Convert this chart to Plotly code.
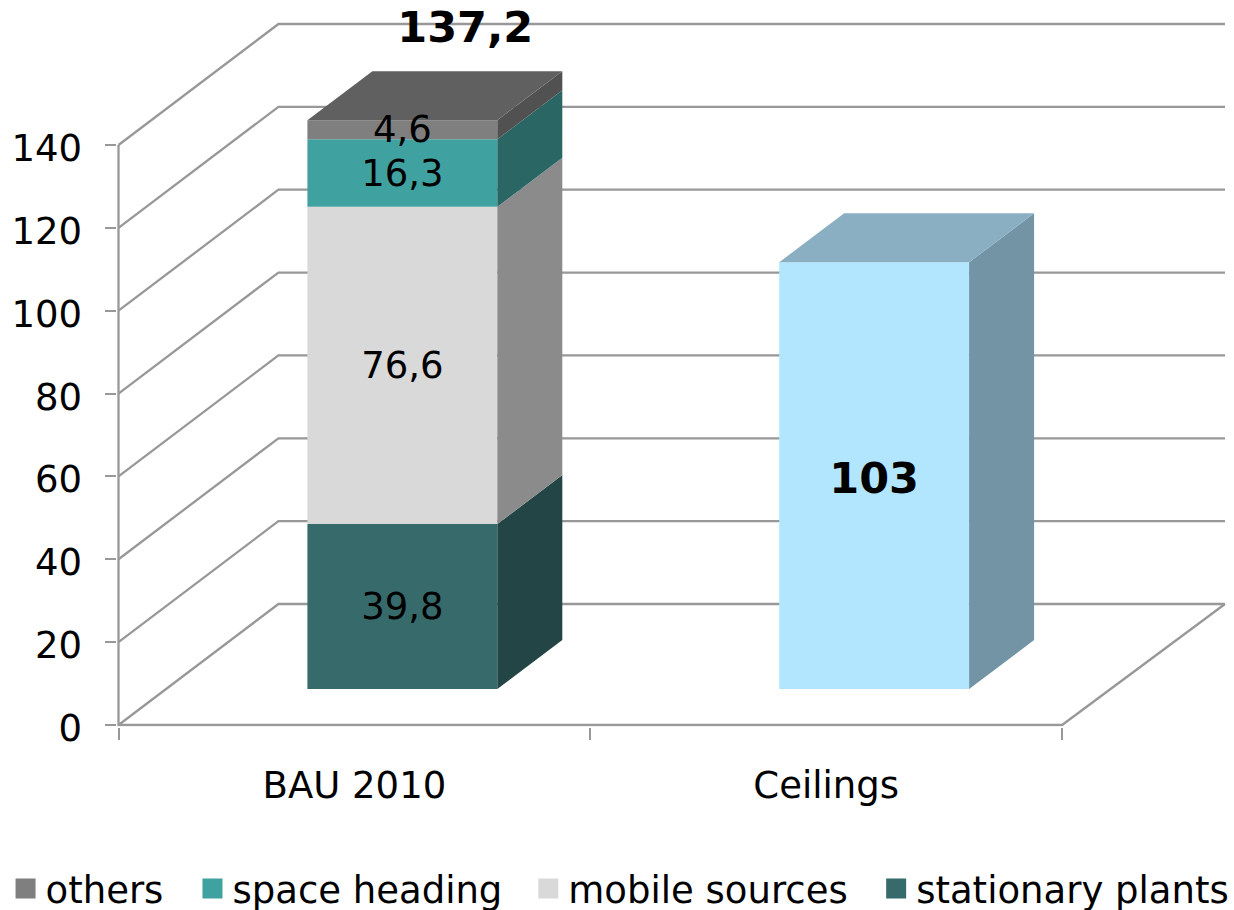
import plotly.graph_objects as go

# ---- data ----
categories = ["BAU 2010", "Ceilings"]
y_ticks = [0, 20, 40, 60, 80, 100, 120, 140]
stack_names = ["stationary plants", "mobile sources", "space heading", "others"]
stack_values = [39.8, 76.6, 16.3, 4.6]
stack_labels = ["39,8", "76,6", "16,3", "4,6"]
total_label = "137,2"
total_value = 137.2
ceiling_value = 103
ceiling_label = "103"
legend_order = ["others", "space heading", "mobile sources", "stationary plants"]

# ---- styling ----
front_colors = {"stationary plants": "#376b6b", "mobile sources": "#d9d9d9",
                "space heading": "#40a2a0", "others": "#7f7f7f"}
side_colors = {"stationary plants": "#234545", "mobile sources": "#8b8b8b",
               "space heading": "#296664", "others": "#515151"}
top_color = "#606060"
ceil_front, ceil_side, ceil_top = "#b2e6ff", "#7294a5", "#8aafc3"
LINE = "#989898"
FONT = "DejaVu Sans"
W, H = 1234, 910
LEFT = 116.5                   # plot-area left edge (1.5 px left of the axis, so its line is not clipped)
AXIS_X, AXIS_Y = 118, 725      # pixel position of the origin
PLOT_BOTTOM = 735
LABEL_SHIFT = 3                # value labels sit this many px below their tick
TEXT_DROP = 3.5 / 4.143        # data labels sit this far below the face centre
UX, UY = 472.0, 4.143          # px per x-unit, px per y-unit
WALL_DX, WALL_DY = 160 / UX, 121 / UY     # oblique depth of the whole floor
RIGHT_DX = 163 / UX
FRONT_DX, FRONT_DY = 48 / UX, 36 / UY     # bar front offset
BAR_DX, BAR_DY = 65 / UX, 49 / UY         # bar depth
BAR_W = 190 / UX
LEGEND_SWATCH_PX = [15, 202, 538, 886]

fig = go.Figure()


def poly(xs, ys, color):
    fig.add_trace(go.Scatter(x=xs + xs[:1], y=ys + ys[:1], mode="lines", fill="toself",
                             fillcolor=color, line=dict(width=0), hoverinfo="skip",
                             showlegend=False))


def bar_segment(cx, base, value, name, front, side):
    fig.add_trace(go.Bar(x=[cx + FRONT_DX], y=[value], base=[base + FRONT_DY], width=[BAR_W],
                         marker=dict(color=front, line=dict(width=0)), name=name,
                         showlegend=False))
    xr = cx + FRONT_DX + BAR_W / 2
    y0 = base + FRONT_DY
    y1 = y0 + value
    poly([xr, xr + BAR_DX, xr + BAR_DX, xr], [y0, y0 + BAR_DY, y1 + BAR_DY, y1], side)


def bar_top(cx, value, color):
    xl = cx + FRONT_DX - BAR_W / 2
    xr = xl + BAR_W
    y = value + FRONT_DY
    poly([xl, xr, xr + BAR_DX, xl + BAR_DX], [y, y, y + BAR_DY, y + BAR_DY], color)


def text_mark(x, y, text, font):
    fig.add_trace(go.Scatter(x=[x], y=[y], mode="text", text=[text],
                             textposition="middle center", textfont=font, cliponaxis=False,
                             showlegend=False, hoverinfo="skip"))


label_font = dict(family=FONT, size=37, color="black")
bold_font = dict(family=FONT, size=43, color="black", weight="bold")

# stacked column
cum = 0.0
mids = []
for n, v in zip(stack_names, stack_values):
    bar_segment(0.5, cum, v, n, front_colors[n], side_colors[n])
    mids.append(cum + v / 2)
    cum += v
bar_top(0.5, cum, top_color)

# ceiling column
bar_segment(1.5, 0, ceiling_value, "Ceilings", ceil_front, ceil_side)
bar_top(1.5, ceiling_value, ceil_top)

# data labels, last so that they lie over the column faces
for m, lab in zip(mids, stack_labels):
    text_mark(0.5 + FRONT_DX, m + FRONT_DY - TEXT_DROP, lab, label_font)
text_mark(1.5 + FRONT_DX, ceiling_value / 2 + FRONT_DY - 1.7, ceiling_label, bold_font)
text_mark(0.5 + 0.235, total_value + 30.25, total_label, bold_font)

# legend entries: one legend per entry, so each can sit at its own place
legends = {}
for i, (n, px) in enumerate(zip(legend_order, LEGEND_SWATCH_PX)):
    key = "legend" if i == 0 else f"legend{i + 1}"
    fig.add_trace(go.Scatter(x=[None], y=[None], mode="markers", name=n, legend=key, yaxis="y2",
                             marker=dict(symbol="square", size=16, color=front_colors[n],
                                         line=dict(width=4, color=front_colors[n]))))
    legends[key] = dict(orientation="h", x=(px - 10 - LEFT) / (W - LEFT), xanchor="left",
                        y=(PLOT_BOTTOM - 889) / PLOT_BOTTOM, yanchor="middle",
                        font=dict(family=FONT, size=37),
                        bgcolor="rgba(0,0,0,0)", itemwidth=30)

# walls, floor and gridlines (behind the columns)
line = dict(color=LINE, width=2.3)
shapes = []
for t in y_ticks:
    p = f"M0,{t} L{WALL_DX},{t + WALL_DY} L{2 + RIGHT_DX},{t + WALL_DY}"
    shapes.append(dict(type="path", path=p, xref="x", yref="y", line=line, layer="below"))
shapes.append(dict(type="path", path=f"M0,{y_ticks[-1]} L0,0 L2,0 L{2 + RIGHT_DX},{WALL_DY}",
                   xref="x", yref="y", line=line, layer="below"))

fig.update_layout(
    width=W, height=H, autosize=False, showlegend=True,
    margin=dict(l=LEFT, r=0, t=0, b=H - PLOT_BOTTOM, autoexpand=False),
    paper_bgcolor="white", plot_bgcolor="rgba(0,0,0,0)", barmode="overlay",
    font=dict(family=FONT, size=37, color="black"),
    shapes=shapes,
    xaxis=dict(range=[(LEFT - AXIS_X) / UX, (W - AXIS_X) / UX], tickvals=[0.5, 1.5],
               ticktext=categories, ticks="", showgrid=False, zeroline=False, showline=False,
               ticklabelstandoff=33, tickfont=dict(family=FONT, size=37),
               minor=dict(tickvals=[0, 1, 2], ticks="outside", ticklen=12, tickwidth=2,
                          tickcolor=LINE, showgrid=False)),
    # tick marks on y, value labels on y2 (the same scale, moved a little down)
    yaxis=dict(domain=[(PLOT_BOTTOM - AXIS_Y - 1.5) / PLOT_BOTTOM, 1],
               range=[-1.5 / UY, AXIS_Y / UY], tickvals=y_ticks, showticklabels=False,
               ticks="outside", ticklen=11.5, tickwidth=2, tickcolor=LINE,
               showgrid=False, zeroline=False, showline=False),
    yaxis2=dict(anchor="x", side="left", domain=[0, 1],
                range=[-(PLOT_BOTTOM - AXIS_Y - LABEL_SHIFT) / UY, (AXIS_Y + LABEL_SHIFT) / UY],
                tickvals=y_ticks, ticks="", showgrid=False, zeroline=False, showline=False,
                ticklabelstandoff=34, tickfont=dict(family=FONT, size=37)),
    **legends,
)
fig.write_html("out.html", config=dict(displayModeBar=False),
               post_script="document.body.style.margin='0';")
